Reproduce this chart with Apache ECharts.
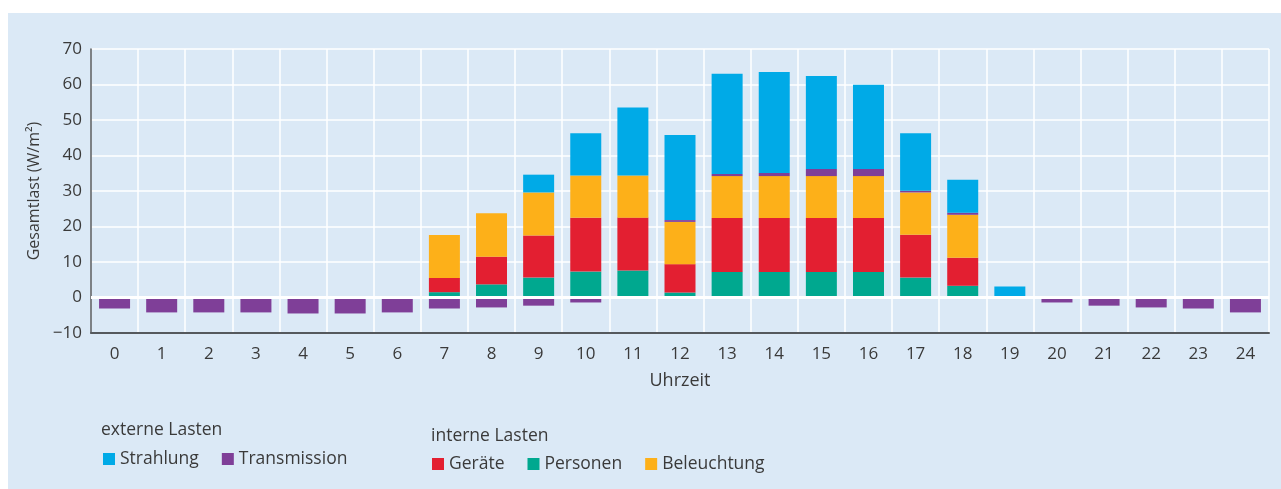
<!DOCTYPE html>
<html>
<head>
<meta charset="utf-8">
<script src="https://cdn.jsdelivr.net/npm/echarts@6/dist/echarts.min.js"></script>
<style>
  html, body { margin: 0; padding: 0; background: #fff; }
  #chart {
    width: 1281px;
    height: 489px;
    background: linear-gradient(#dbe9f6, #dbe9f6) 8px 13px / 1273px 476px no-repeat, #fff;
  }
</style>
</head>
<body>
<div id="chart"></div>
<script>
// Uhrzeit (x-Achse)
const hours = ['0', '1', '2', '3', '4', '5', '6', '7', '8', '9', '10', '11', '12',
  '13', '14', '15', '16', '17', '18', '19', '20', '21', '22', '23', '24'];

// Lasten in W/m² je Stunde (null = kein Anteil)
const personen = [null, null, null, null, null, null, null, 1.5, 3.7, 5.6, 7.3, 7.6, 1.4,
  7.2, 7.2, 7.2, 7.2, 5.6, 3.3, null, null, null, null, null, null];
const geraete = [null, null, null, null, null, null, null, 4.0, 7.8, 11.9, 15.2, 14.9, 8.0,
  15.2, 15.2, 15.2, 15.2, 12.1, 7.9, null, null, null, null, null, null];
const beleuchtung = [null, null, null, null, null, null, null, 12.1, 12.2, 12.1, 11.9, 11.9, 11.9,
  11.8, 11.8, 11.8, 11.8, 11.9, 12.1, null, null, null, null, null, null];
const transmission = [-3.1, -4.2, -4.2, -4.2, -4.5, -4.5, -4.2, -3.1, -2.8, -2.3, -1.4, null, 0.5,
  0.6, 0.9, 2.0, 2.0, 0.5, 0.6, 0.4, -1.4, -2.3, -2.8, -3.1, -4.2];
const strahlung = [null, null, null, null, null, null, null, null, null, 5.0, 11.9, 19.1, 24.0,
  28.2, 28.4, 26.2, 23.7, 16.2, 9.3, 2.7, null, null, null, null, null];

const FONT = '"Open Sans", "Noto Sans", sans-serif';
const TEXT = '#3a3a3a';
const colors = {
  Strahlung: '#00aae7',
  Transmission: '#7f3f98',
  'Geräte': '#e31f31',
  Personen: '#00a88f',
  Beleuchtung: '#fdb019'
};

const myChart = echarts.init(document.getElementById('chart'));

const makeBar = function (name, data) {
  return {
    name: name,
    type: 'bar',
    stack: 'last',
    barWidth: 31,
    data: data,
    itemStyle: { color: colors[name] }
  };
};

const series = [
  makeBar('Personen', personen),
  makeBar('Geräte', geraete),
  makeBar('Beleuchtung', beleuchtung),
  makeBar('Transmission', transmission),
  makeBar('Strahlung', strahlung)
];
// dicke weiße Nulllinie über den Balken
series[4].markLine = {
  silent: true,
  symbol: 'none',
  label: { show: false },
  lineStyle: { color: '#fff', width: 3, type: 'solid' },
  data: [{ yAxis: 0 }]
};

const legendText = { fontSize: 17.5, color: TEXT, fontFamily: FONT };

const option = {
  animation: false,
  backgroundColor: 'transparent',
  textStyle: { fontFamily: FONT, color: TEXT },
  grid: { left: 91, right: 12, top: 49, bottom: 156 },
  graphic: [
    { type: 'text', left: 101, top: 421, style: { text: 'externe Lasten', fontSize: 17.5, fontFamily: FONT, fill: TEXT } },
    { type: 'text', left: 431, top: 427, style: { text: 'interne Lasten', fontSize: 17.5, fontFamily: FONT, fill: TEXT } }
  ],
  legend: [
    {
      left: 103,
      top: 450,
      padding: 0,
      icon: 'rect',
      itemWidth: 12,
      itemHeight: 12,
      itemGap: 23,
      textStyle: legendText,
      data: ['Strahlung', 'Transmission']
    },
    {
      left: 432,
      top: 455,
      padding: 0,
      icon: 'rect',
      itemWidth: 12,
      itemHeight: 12,
      itemGap: 23,
      textStyle: legendText,
      data: ['Geräte', 'Personen', 'Beleuchtung']
    }
  ],
  xAxis: {
    type: 'category',
    data: hours,
    name: 'Uhrzeit',
    nameLocation: 'middle',
    nameGap: 39,
    nameTextStyle: { fontSize: 18, color: TEXT },
    axisLine: { onZero: false, lineStyle: { color: '#55595d', width: 2 } },
    axisTick: { show: false },
    axisLabel: { fontSize: 17, color: TEXT, margin: 13 },
    splitLine: { show: true, interval: 0, lineStyle: { color: '#fff', width: 1.5 } }
  },
  yAxis: {
    type: 'value',
    min: -10,
    max: 70,
    interval: 10,
    name: 'Gesamtlast (W/m²)',
    nameLocation: 'middle',
    nameRotate: 90,
    nameGap: 47,
    nameTextStyle: { fontSize: 16, color: TEXT },
    axisLine: { show: true, lineStyle: { color: '#55595d', width: 1.5 } },
    axisTick: { show: false },
    axisLabel: {
      fontSize: 17,
      color: TEXT,
      margin: 9,
      formatter: function (v) {
        return v < 0 ? '\u2212' + Math.abs(v) : String(v);
      }
    },
    splitLine: { show: true, lineStyle: { color: '#fff', width: 1.5 } }
  },
  series: series
};

myChart.setOption(option);
</script>
</body>
</html>
